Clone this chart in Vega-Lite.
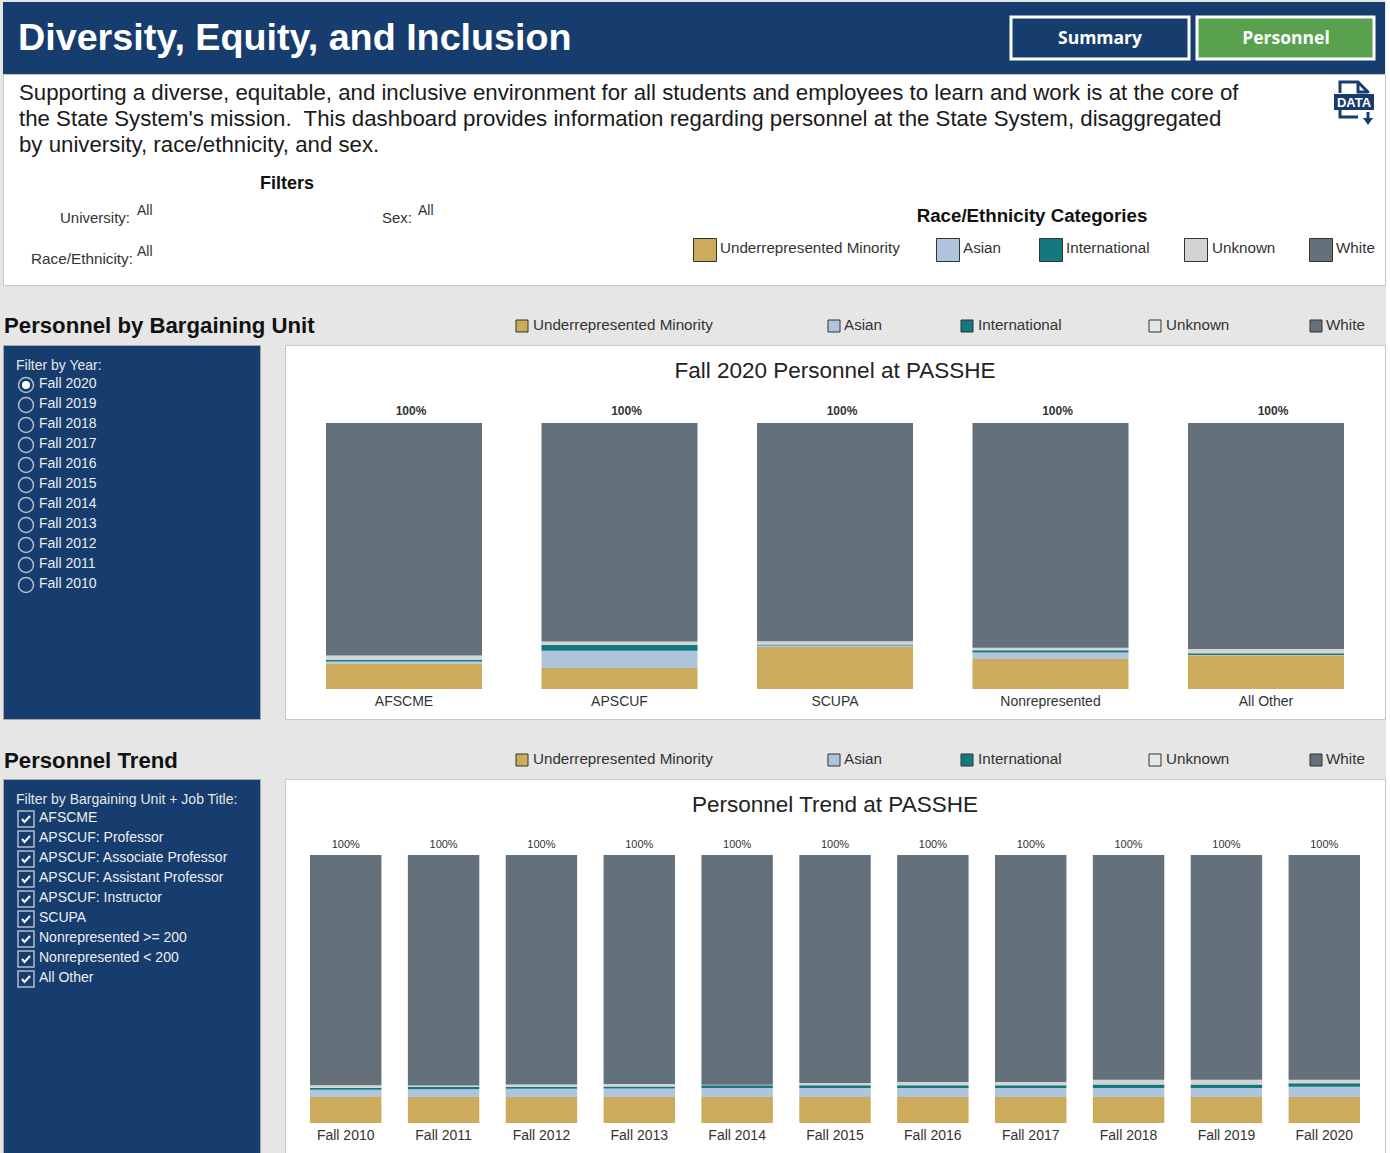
{
"$schema":"https://vega.github.io/schema/vega-lite/v6.json",
"background":"#e6e6e6",
"padding":{"left":2,"top":2,"right":0,"bottom":0},
"config":{"font":"Liberation Sans","view":{"stroke":null},"concat":{"spacing":0}},
"datasets":{
"urm":[{"cat":"Underrepresented Minority"}],"asian":[{"cat":"Asian"}],"intl":[{"cat":"International"}],"unk":[{"cat":"Unknown"}],"white":[{"cat":"White"}],
"years":[{"year":"Fall 2020","sel":1},{"year":"Fall 2019","sel":0},{"year":"Fall 2018","sel":0},{"year":"Fall 2017","sel":0},{"year":"Fall 2016","sel":0},{"year":"Fall 2015","sel":0},{"year":"Fall 2014","sel":0},{"year":"Fall 2013","sel":0},{"year":"Fall 2012","sel":0},{"year":"Fall 2011","sel":0},{"year":"Fall 2010","sel":0}],
"units":[{"item":"AFSCME"},{"item":"APSCUF: Professor"},{"item":"APSCUF: Associate Professor"},{"item":"APSCUF: Assistant Professor"},{"item":"APSCUF: Instructor"},{"item":"SCUPA"},{"item":"Nonrepresented >= 200"},{"item":"Nonrepresented < 200"},{"item":"All Other"}],
"unitBars":[
{"g":"AFSCME","cat":"Underrepresented Minority","ord":1,"v":9.6},{"g":"AFSCME","cat":"Asian","ord":2,"v":0.75},{"g":"AFSCME","cat":"International","ord":3,"v":0.6},{"g":"AFSCME","cat":"Unknown","ord":4,"v":1.6},{"g":"AFSCME","cat":"White","ord":5,"v":87.45},
{"g":"APSCUF","cat":"Underrepresented Minority","ord":1,"v":7.9},{"g":"APSCUF","cat":"Asian","ord":2,"v":6.5},{"g":"APSCUF","cat":"International","ord":3,"v":2.25},{"g":"APSCUF","cat":"Unknown","ord":4,"v":1.25},{"g":"APSCUF","cat":"White","ord":5,"v":82.1},
{"g":"SCUPA","cat":"Underrepresented Minority","ord":1,"v":15.8},{"g":"SCUPA","cat":"Asian","ord":2,"v":0.6},{"g":"SCUPA","cat":"International","ord":3,"v":0.3},{"g":"SCUPA","cat":"Unknown","ord":4,"v":1.25},{"g":"SCUPA","cat":"White","ord":5,"v":82.05},
{"g":"Nonrepresented","cat":"Underrepresented Minority","ord":1,"v":11.3},{"g":"Nonrepresented","cat":"Asian","ord":2,"v":2.4},{"g":"Nonrepresented","cat":"International","ord":3,"v":0.9},{"g":"Nonrepresented","cat":"Unknown","ord":4,"v":0.9},{"g":"Nonrepresented","cat":"White","ord":5,"v":84.5},
{"g":"All Other","cat":"Underrepresented Minority","ord":1,"v":12.7},{"g":"All Other","cat":"Asian","ord":2,"v":0.1},{"g":"All Other","cat":"International","ord":3,"v":0.6},{"g":"All Other","cat":"Unknown","ord":4,"v":1.6},{"g":"All Other","cat":"White","ord":5,"v":85.0}
],
"unitTotals":[{"g":"AFSCME","label":"100%"},{"g":"APSCUF","label":"100%"},{"g":"SCUPA","label":"100%"},{"g":"Nonrepresented","label":"100%"},{"g":"All Other","label":"100%"}],
"trendBars":[
{"g":"Fall 2010","cat":"Underrepresented Minority","ord":1,"v":9.7},{"g":"Fall 2010","cat":"Asian","ord":2,"v":2.7},{"g":"Fall 2010","cat":"International","ord":3,"v":0.75},{"g":"Fall 2010","cat":"Unknown","ord":4,"v":0.9},{"g":"Fall 2010","cat":"White","ord":5,"v":85.95},
{"g":"Fall 2011","cat":"Underrepresented Minority","ord":1,"v":9.7},{"g":"Fall 2011","cat":"Asian","ord":2,"v":2.85},{"g":"Fall 2011","cat":"International","ord":3,"v":1.0},{"g":"Fall 2011","cat":"Unknown","ord":4,"v":0.4},{"g":"Fall 2011","cat":"White","ord":5,"v":86.05},
{"g":"Fall 2012","cat":"Underrepresented Minority","ord":1,"v":9.7},{"g":"Fall 2012","cat":"Asian","ord":2,"v":3.1},{"g":"Fall 2012","cat":"International","ord":3,"v":0.7},{"g":"Fall 2012","cat":"Unknown","ord":4,"v":0.9},{"g":"Fall 2012","cat":"White","ord":5,"v":85.6},
{"g":"Fall 2013","cat":"Underrepresented Minority","ord":1,"v":9.7},{"g":"Fall 2013","cat":"Asian","ord":2,"v":3.2},{"g":"Fall 2013","cat":"International","ord":3,"v":0.75},{"g":"Fall 2013","cat":"Unknown","ord":4,"v":0.9},{"g":"Fall 2013","cat":"White","ord":5,"v":85.45},
{"g":"Fall 2014","cat":"Underrepresented Minority","ord":1,"v":9.7},{"g":"Fall 2014","cat":"Asian","ord":2,"v":3.35},{"g":"Fall 2014","cat":"International","ord":3,"v":1.0},{"g":"Fall 2014","cat":"Unknown","ord":4,"v":0.25},{"g":"Fall 2014","cat":"White","ord":5,"v":85.7},
{"g":"Fall 2015","cat":"Underrepresented Minority","ord":1,"v":9.7},{"g":"Fall 2015","cat":"Asian","ord":2,"v":3.35},{"g":"Fall 2015","cat":"International","ord":3,"v":1.0},{"g":"Fall 2015","cat":"Unknown","ord":4,"v":0.9},{"g":"Fall 2015","cat":"White","ord":5,"v":85.05},
{"g":"Fall 2016","cat":"Underrepresented Minority","ord":1,"v":9.7},{"g":"Fall 2016","cat":"Asian","ord":2,"v":3.35},{"g":"Fall 2016","cat":"International","ord":3,"v":1.0},{"g":"Fall 2016","cat":"Unknown","ord":4,"v":1.25},{"g":"Fall 2016","cat":"White","ord":5,"v":84.7},
{"g":"Fall 2017","cat":"Underrepresented Minority","ord":1,"v":9.7},{"g":"Fall 2017","cat":"Asian","ord":2,"v":3.35},{"g":"Fall 2017","cat":"International","ord":3,"v":1.0},{"g":"Fall 2017","cat":"Unknown","ord":4,"v":1.25},{"g":"Fall 2017","cat":"White","ord":5,"v":84.7},
{"g":"Fall 2018","cat":"Underrepresented Minority","ord":1,"v":9.7},{"g":"Fall 2018","cat":"Asian","ord":2,"v":3.35},{"g":"Fall 2018","cat":"International","ord":3,"v":1.35},{"g":"Fall 2018","cat":"Unknown","ord":4,"v":1.7},{"g":"Fall 2018","cat":"White","ord":5,"v":83.9},
{"g":"Fall 2019","cat":"Underrepresented Minority","ord":1,"v":9.7},{"g":"Fall 2019","cat":"Asian","ord":2,"v":3.35},{"g":"Fall 2019","cat":"International","ord":3,"v":1.35},{"g":"Fall 2019","cat":"Unknown","ord":4,"v":1.7},{"g":"Fall 2019","cat":"White","ord":5,"v":83.9},
{"g":"Fall 2020","cat":"Underrepresented Minority","ord":1,"v":9.7},{"g":"Fall 2020","cat":"Asian","ord":2,"v":3.85},{"g":"Fall 2020","cat":"International","ord":3,"v":1.25},{"g":"Fall 2020","cat":"Unknown","ord":4,"v":1.35},{"g":"Fall 2020","cat":"White","ord":5,"v":83.85}
],
"trendTotals":[{"g":"Fall 2010","label":"100%"},{"g":"Fall 2011","label":"100%"},{"g":"Fall 2012","label":"100%"},{"g":"Fall 2013","label":"100%"},{"g":"Fall 2014","label":"100%"},{"g":"Fall 2015","label":"100%"},{"g":"Fall 2016","label":"100%"},{"g":"Fall 2017","label":"100%"},{"g":"Fall 2018","label":"100%"},{"g":"Fall 2019","label":"100%"},{"g":"Fall 2020","label":"100%"}]
},
"vconcat":[
{"width":1382,"height":72,"view":{"fill":"#163d6e","stroke":null},"layer":[
 {"data":{"values":[{"t":"Diversity, Equity, and Inclusion"}]},"mark":{"type":"text","align":"left","baseline":"middle","fontSize":37.7,"fontWeight":"bold","color":"#ffffff"},"encoding":{"text":{"field":"t"},"x":{"value":15},"y":{"value":37}}},
 {"data":{"values":[{"b":"Summary"}]},"mark":{"type":"rect","fill":"#163d6e","stroke":"#ffffff","strokeWidth":3},"encoding":{"x":{"value":1008},"x2":{"value":1186},"y":{"value":15},"y2":{"value":57}}},
 {"data":{"values":[{"b":"Personnel"}]},"mark":{"type":"rect","fill":"#5aa14f","stroke":"#ffffff","strokeWidth":3},"encoding":{"x":{"value":1194},"x2":{"value":1371},"y":{"value":15},"y2":{"value":57}}},
 {"data":{"values":[{"b":"Summary"}]},"mark":{"type":"text","align":"center","baseline":"middle","fontSize":17.5,"fontWeight":"bold","font":"Open Sans","color":"#ffffff"},"encoding":{"text":{"field":"b"},"x":{"value":1097},"y":{"value":37}}},
 {"data":{"values":[{"b":"Personnel"}]},"mark":{"type":"text","align":"center","baseline":"middle","fontSize":17.5,"fontWeight":"bold","font":"Open Sans","color":"#ffffff"},"encoding":{"text":{"field":"b"},"x":{"value":1283},"y":{"value":37}}}
]},
{"width":1382,"height":211,"view":{"fill":"#ffffff","stroke":"#c8c8c8"},"layer":[
 {"data":{"values":[{"t":"Supporting a diverse, equitable, and inclusive environment for all students and employees to learn and work is at the core of\nthe State System's mission.\u00a0 This dashboard provides information regarding personnel at the State System, disaggregated\nby university, race/ethnicity, and sex."}]},"mark":{"type":"text","align":"left","baseline":"middle","fontSize":22.25,"lineBreak":"\n","lineHeight":26,"color":"#1a1a1a"},"encoding":{"text":{"field":"t"},"x":{"value":16},"y":{"value":19}}},
 {"data":{"values":[{"t":"Filters"}]},"mark":{"type":"text","align":"center","baseline":"middle","fontSize":18,"fontWeight":"bold","color":"#111111"},"encoding":{"text":{"field":"t"},"x":{"value":284},"y":{"value":110}}},
 {"data":{"values":[{"t":"University:"}]},"mark":{"type":"text","align":"right","baseline":"middle","fontSize":15,"color":"#333333"},"encoding":{"text":{"field":"t"},"x":{"value":127},"y":{"value":144}}},
 {"data":{"values":[{"t":"Sex:"}]},"mark":{"type":"text","align":"right","baseline":"middle","fontSize":15,"color":"#333333"},"encoding":{"text":{"field":"t"},"x":{"value":409},"y":{"value":144}}},
 {"data":{"values":[{"t":"Race/Ethnicity:"}]},"mark":{"type":"text","align":"right","baseline":"middle","fontSize":15.3,"color":"#333333"},"encoding":{"text":{"field":"t"},"x":{"value":130},"y":{"value":185}}},
 {"data":{"values":[{"t":"All"}]},"mark":{"type":"text","align":"left","baseline":"middle","fontSize":14,"color":"#333333"},"encoding":{"text":{"field":"t"},"x":{"value":134},"y":{"value":137}}},
 {"data":{"values":[{"t":"All"}]},"mark":{"type":"text","align":"left","baseline":"middle","fontSize":14,"color":"#333333"},"encoding":{"text":{"field":"t"},"x":{"value":415},"y":{"value":137}}},
 {"data":{"values":[{"t":"All"}]},"mark":{"type":"text","align":"left","baseline":"middle","fontSize":14,"color":"#333333"},"encoding":{"text":{"field":"t"},"x":{"value":134},"y":{"value":178}}},
 {"data":{"values":[{"t":"Race/Ethnicity Categories"}]},"mark":{"type":"text","align":"center","baseline":"middle","fontSize":18.7,"fontWeight":"bold","color":"#111111"},"encoding":{"text":{"field":"t"},"x":{"value":1029},"y":{"value":142}}},
 {"data":{"name":"urm"},"mark":{"type":"point","shape":"square","filled":true,"size":529,"fill":"#cdab5d","stroke":"#333333","strokeWidth":1,"opacity":1},"encoding":{"x":{"value":702},"y":{"value":176}}},
 {"data":{"name":"asian"},"mark":{"type":"point","shape":"square","filled":true,"size":529,"fill":"#afc5de","stroke":"#333333","strokeWidth":1,"opacity":1},"encoding":{"x":{"value":945},"y":{"value":176}}},
 {"data":{"name":"intl"},"mark":{"type":"point","shape":"square","filled":true,"size":529,"fill":"#14797f","stroke":"#333333","strokeWidth":1,"opacity":1},"encoding":{"x":{"value":1048},"y":{"value":176}}},
 {"data":{"name":"unk"},"mark":{"type":"point","shape":"square","filled":true,"size":529,"fill":"#d4d4d4","stroke":"#333333","strokeWidth":1,"opacity":1},"encoding":{"x":{"value":1193},"y":{"value":176}}},
 {"data":{"name":"white"},"mark":{"type":"point","shape":"square","filled":true,"size":529,"fill":"#65717a","stroke":"#333333","strokeWidth":1,"opacity":1},"encoding":{"x":{"value":1318},"y":{"value":176}}},
 {"data":{"name":"urm"},"mark":{"type":"text","align":"left","baseline":"middle","fontSize":15.2,"color":"#333333"},"encoding":{"x":{"value":717},"y":{"value":174},"text":{"field":"cat"}}},
 {"data":{"name":"asian"},"mark":{"type":"text","align":"left","baseline":"middle","fontSize":15.2,"color":"#333333"},"encoding":{"x":{"value":960},"y":{"value":174},"text":{"field":"cat"}}},
 {"data":{"name":"intl"},"mark":{"type":"text","align":"left","baseline":"middle","fontSize":15.2,"color":"#333333"},"encoding":{"x":{"value":1063},"y":{"value":174},"text":{"field":"cat"}}},
 {"data":{"name":"unk"},"mark":{"type":"text","align":"left","baseline":"middle","fontSize":15.2,"color":"#333333"},"encoding":{"x":{"value":1209},"y":{"value":174},"text":{"field":"cat"}}},
 {"data":{"name":"white"},"mark":{"type":"text","align":"left","baseline":"middle","fontSize":15.2,"color":"#333333"},"encoding":{"x":{"value":1333},"y":{"value":174},"text":{"field":"cat"}}},
 {"data":{"values":[{"icon":"box"}]},"mark":{"type":"rect","fill":"#163d6e"},"encoding":{"x":{"value":1331},"x2":{"value":1371},"y":{"value":20},"y2":{"value":36}}},
 {"data":{"values":[{"icon":"DATA"}]},"mark":{"type":"text","align":"center","baseline":"middle","fontSize":13,"fontWeight":"bold","color":"#ffffff"},"encoding":{"text":{"field":"icon"},"x":{"value":1351},"y":{"value":29}}},
 {"data":{"values":[{"icon":"doc"}]},"mark":{"type":"point","filled":false,"size":4,"stroke":"#163d6e","strokeWidth":3,"opacity":1,"shape":"M-14,-8 L-14,-19 L4,-19 L14,-9 L14,-8 M4,-19 L4,-9 L14,-9 M-14,7 L-14,16 L4,16"},"encoding":{"x":{"value":1351},"y":{"value":27}}},
 {"data":{"values":[{"icon":"arrow"}]},"mark":{"type":"point","filled":true,"size":4,"fill":"#163d6e","opacity":1,"shape":"M12.5,11 L15.5,11 L15.5,17 L19,17 L14,24 L9,17 L12.5,17 Z"},"encoding":{"x":{"value":1351},"y":{"value":27}}}
]},
{"width":1382,"height":59,"layer":[
 {"data":{"values":[{"t":"Personnel by Bargaining Unit"}]},"mark":{"type":"text","align":"left","baseline":"middle","fontSize":22.2,"fontWeight":"bold","color":"#111111"},"encoding":{"text":{"field":"t"},"x":{"value":1},"y":{"value":40}}},
 {"data":{"name":"urm"},"mark":{"type":"point","shape":"square","filled":true,"size":144,"fill":"#cdab5d","stroke":"#333333","strokeWidth":1,"opacity":1},"encoding":{"x":{"value":519},"y":{"value":40}}},
 {"data":{"name":"asian"},"mark":{"type":"point","shape":"square","filled":true,"size":144,"fill":"#afc5de","stroke":"#333333","strokeWidth":1,"opacity":1},"encoding":{"x":{"value":831},"y":{"value":40}}},
 {"data":{"name":"intl"},"mark":{"type":"point","shape":"square","filled":true,"size":144,"fill":"#14797f","stroke":"#333333","strokeWidth":1,"opacity":1},"encoding":{"x":{"value":964},"y":{"value":40}}},
 {"data":{"name":"unk"},"mark":{"type":"point","shape":"square","filled":true,"size":144,"fill":"#e6e6e6","stroke":"#333333","strokeWidth":1,"opacity":1},"encoding":{"x":{"value":1152},"y":{"value":40}}},
 {"data":{"name":"white"},"mark":{"type":"point","shape":"square","filled":true,"size":144,"fill":"#65717a","stroke":"#333333","strokeWidth":1,"opacity":1},"encoding":{"x":{"value":1313},"y":{"value":40}}},
 {"data":{"name":"urm"},"mark":{"type":"text","align":"left","baseline":"middle","fontSize":15.2,"color":"#333333"},"encoding":{"x":{"value":530},"y":{"value":39},"text":{"field":"cat"}}},
 {"data":{"name":"asian"},"mark":{"type":"text","align":"left","baseline":"middle","fontSize":15.2,"color":"#333333"},"encoding":{"x":{"value":841},"y":{"value":39},"text":{"field":"cat"}}},
 {"data":{"name":"intl"},"mark":{"type":"text","align":"left","baseline":"middle","fontSize":15.2,"color":"#333333"},"encoding":{"x":{"value":975},"y":{"value":39},"text":{"field":"cat"}}},
 {"data":{"name":"unk"},"mark":{"type":"text","align":"left","baseline":"middle","fontSize":15.2,"color":"#333333"},"encoding":{"x":{"value":1163},"y":{"value":39},"text":{"field":"cat"}}},
 {"data":{"name":"white"},"mark":{"type":"text","align":"left","baseline":"middle","fontSize":15.2,"color":"#333333"},"encoding":{"x":{"value":1323},"y":{"value":39},"text":{"field":"cat"}}}
]},
{"hconcat":[
 {"width":257,"height":374,"view":{"fill":"#163d6e","stroke":"#a8a8a8"},"layer":[
  {"data":{"values":[{"t":"Filter by Year:"}]},"mark":{"type":"text","align":"left","baseline":"middle","fontSize":14,"color":"#e6e6e6"},"encoding":{"text":{"field":"t"},"x":{"value":13},"y":{"value":21}}},
  {"data":{"name":"years"},"mark":{"type":"point","shape":"circle","filled":false,"size":225,"stroke":"#b4bcc8","strokeWidth":1.5,"opacity":1},"encoding":{"y":{"field":"year","type":"nominal","sort":null,"axis":null,"scale":{"type":"point","padding":0,"range":[40,240]}},"x":{"value":23}}},
  {"data":{"name":"years"},"transform":[{"filter":"datum.sel == 1"}],"mark":{"type":"point","shape":"circle","filled":true,"size":64,"fill":"#ffffff","opacity":1},"encoding":{"y":{"field":"year","type":"nominal","sort":null,"axis":null,"scale":{"type":"point","padding":0,"domain":["Fall 2020","Fall 2019","Fall 2018","Fall 2017","Fall 2016","Fall 2015","Fall 2014","Fall 2013","Fall 2012","Fall 2011","Fall 2010"],"range":[40,240]}},"x":{"value":23}}},
  {"data":{"name":"years"},"mark":{"type":"text","align":"left","baseline":"middle","fontSize":14,"color":"#eeeeee"},"encoding":{"y":{"field":"year","type":"nominal","sort":null,"axis":null,"scale":{"type":"point","padding":0,"range":[39,239]}},"x":{"value":36},"text":{"field":"year"}}}
 ],"resolve":{"scale":{"y":"independent"}}},
 {"width":1100,"height":374,"view":{"fill":"#ffffff","stroke":"#c8c8c8"},"layer":[
  {"data":{"values":[{"t":"Fall 2020 Personnel at PASSHE"}]},"mark":{"type":"text","align":"center","baseline":"middle","fontSize":22.5,"color":"#222222"},"encoding":{"text":{"field":"t"},"x":{"value":550},"y":{"value":26}}},
  {"data":{"name":"unitBars"},"mark":{"type":"bar"},"encoding":{
   "x":{"field":"g","type":"nominal","sort":["AFSCME","APSCUF","SCUPA","Nonrepresented","All Other"],"scale":{"domain":["AFSCME","APSCUF","SCUPA","Nonrepresented","All Other"],"range":[41,1059],"paddingInner":0.276,"paddingOuter":0},"axis":{"title":null,"labelAngle":0,"domain":false,"ticks":false,"offset":-30,"labelPadding":5,"labelFontSize":14,"labelColor":"#333333"}},
   "y":{"field":"v","type":"quantitative","aggregate":"sum","stack":"zero","scale":{"domain":[0,100],"range":[344,78]},"axis":null},
   "color":{"field":"cat","type":"nominal","legend":null,"scale":{"domain":["Underrepresented Minority","Asian","International","Unknown","White"],"range":["#cdab5d","#afc5de","#14797f","#d4d4d4","#65717a"]}},
   "order":{"field":"ord","type":"quantitative","sort":"ascending","aggregate":"min"}}},
  {"data":{"name":"unitTotals"},"mark":{"type":"text","align":"center","baseline":"middle","fontSize":12,"fontWeight":"bold","dx":7,"dy":-12,"color":"#333333"},"encoding":{
   "x":{"field":"g","type":"nominal","sort":["AFSCME","APSCUF","SCUPA","Nonrepresented","All Other"]},
   "y":{"datum":100},
   "text":{"field":"label"}}}
 ]}
],"spacing":25,"bounds":"flush"},
{"width":1382,"height":59,"layer":[
 {"data":{"values":[{"t":"Personnel Trend"}]},"mark":{"type":"text","align":"left","baseline":"middle","fontSize":22.2,"fontWeight":"bold","color":"#111111"},"encoding":{"text":{"field":"t"},"x":{"value":1},"y":{"value":41}}},
 {"data":{"name":"urm"},"mark":{"type":"point","shape":"square","filled":true,"size":144,"fill":"#cdab5d","stroke":"#333333","strokeWidth":1,"opacity":1},"encoding":{"x":{"value":519},"y":{"value":40}}},
 {"data":{"name":"asian"},"mark":{"type":"point","shape":"square","filled":true,"size":144,"fill":"#afc5de","stroke":"#333333","strokeWidth":1,"opacity":1},"encoding":{"x":{"value":831},"y":{"value":40}}},
 {"data":{"name":"intl"},"mark":{"type":"point","shape":"square","filled":true,"size":144,"fill":"#14797f","stroke":"#333333","strokeWidth":1,"opacity":1},"encoding":{"x":{"value":964},"y":{"value":40}}},
 {"data":{"name":"unk"},"mark":{"type":"point","shape":"square","filled":true,"size":144,"fill":"#e6e6e6","stroke":"#333333","strokeWidth":1,"opacity":1},"encoding":{"x":{"value":1152},"y":{"value":40}}},
 {"data":{"name":"white"},"mark":{"type":"point","shape":"square","filled":true,"size":144,"fill":"#65717a","stroke":"#333333","strokeWidth":1,"opacity":1},"encoding":{"x":{"value":1313},"y":{"value":40}}},
 {"data":{"name":"urm"},"mark":{"type":"text","align":"left","baseline":"middle","fontSize":15.2,"color":"#333333"},"encoding":{"x":{"value":530},"y":{"value":39},"text":{"field":"cat"}}},
 {"data":{"name":"asian"},"mark":{"type":"text","align":"left","baseline":"middle","fontSize":15.2,"color":"#333333"},"encoding":{"x":{"value":841},"y":{"value":39},"text":{"field":"cat"}}},
 {"data":{"name":"intl"},"mark":{"type":"text","align":"left","baseline":"middle","fontSize":15.2,"color":"#333333"},"encoding":{"x":{"value":975},"y":{"value":39},"text":{"field":"cat"}}},
 {"data":{"name":"unk"},"mark":{"type":"text","align":"left","baseline":"middle","fontSize":15.2,"color":"#333333"},"encoding":{"x":{"value":1163},"y":{"value":39},"text":{"field":"cat"}}},
 {"data":{"name":"white"},"mark":{"type":"text","align":"left","baseline":"middle","fontSize":15.2,"color":"#333333"},"encoding":{"x":{"value":1323},"y":{"value":39},"text":{"field":"cat"}}}
]},
{"hconcat":[
 {"width":257,"height":374,"view":{"fill":"#163d6e","stroke":"#a8a8a8"},"layer":[
  {"data":{"values":[{"t":"Filter by Bargaining Unit + Job Title:"}]},"mark":{"type":"text","align":"left","baseline":"middle","fontSize":14,"color":"#e6e6e6"},"encoding":{"text":{"field":"t"},"x":{"value":13},"y":{"value":21}}},
  {"data":{"name":"units"},"mark":{"type":"point","shape":"square","filled":false,"size":256,"stroke":"#b4bcc8","strokeWidth":1.5,"opacity":1},"encoding":{"y":{"field":"item","type":"nominal","sort":null,"axis":null,"scale":{"type":"point","padding":0,"range":[40,200]}},"x":{"value":23}}},
  {"data":{"name":"units"},"mark":{"type":"point","filled":false,"size":4,"stroke":"#ffffff","strokeWidth":2,"opacity":1,"shape":"M-4,0 L-1.5,3 L4,-3"},"encoding":{"y":{"field":"item","type":"nominal","sort":null,"axis":null,"scale":{"type":"point","padding":0,"range":[40,200]}},"x":{"value":23}}},
  {"data":{"name":"units"},"mark":{"type":"text","align":"left","baseline":"middle","fontSize":14,"color":"#eeeeee"},"encoding":{"y":{"field":"item","type":"nominal","sort":null,"axis":null,"scale":{"type":"point","padding":0,"range":[39,199]}},"x":{"value":36},"text":{"field":"item"}}}
 ],"resolve":{"scale":{"y":"independent"}}},
 {"width":1100,"height":374,"view":{"fill":"#ffffff","stroke":"#c8c8c8"},"layer":[
  {"data":{"values":[{"t":"Personnel Trend at PASSHE"}]},"mark":{"type":"text","align":"center","baseline":"middle","fontSize":22.5,"color":"#222222"},"encoding":{"text":{"field":"t"},"x":{"value":550},"y":{"value":26}}},
  {"data":{"name":"trendBars"},"mark":{"type":"bar"},"encoding":{
   "x":{"field":"g","type":"nominal","scale":{"domain":["Fall 2010","Fall 2011","Fall 2012","Fall 2013","Fall 2014","Fall 2015","Fall 2016","Fall 2017","Fall 2018","Fall 2019","Fall 2020"],"range":[25,1075],"paddingInner":0.27,"paddingOuter":0},"axis":{"title":null,"labelAngle":0,"domain":false,"ticks":false,"offset":-30,"labelPadding":5,"labelFontSize":14,"labelColor":"#333333"}},
   "y":{"field":"v","type":"quantitative","aggregate":"sum","stack":"zero","scale":{"domain":[0,100],"range":[344,76]},"axis":null},
   "color":{"field":"cat","type":"nominal","legend":null,"scale":{"domain":["Underrepresented Minority","Asian","International","Unknown","White"],"range":["#cdab5d","#afc5de","#14797f","#d4d4d4","#65717a"]}},
   "order":{"field":"ord","type":"quantitative","sort":"ascending","aggregate":"min"}}},
  {"data":{"name":"trendTotals"},"mark":{"type":"text","align":"center","baseline":"middle","fontSize":11,"dy":-10,"color":"#333333"},"encoding":{
   "x":{"field":"g","type":"nominal"},
   "y":{"datum":100},
   "text":{"field":"label"}}}
 ]}
],"spacing":25,"bounds":"flush"}
],
"spacing":-1
}
